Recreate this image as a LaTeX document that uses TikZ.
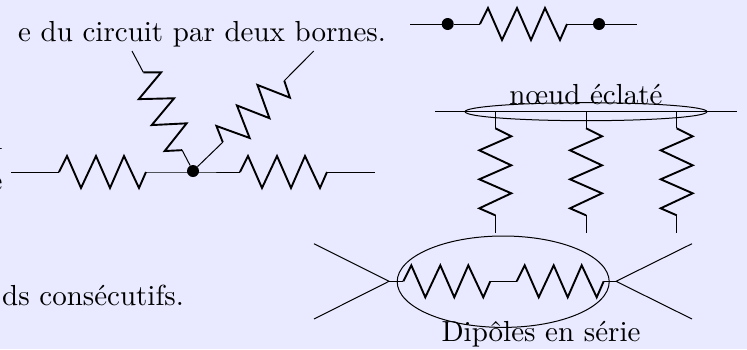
\documentclass[tikz,border=0pt]{standalone}
\usepackage{fontspec}
\usetikzlibrary{shapes.geometric}
\definecolor{fond}{HTML}{E9E9FF}
\tikzset{
	resist/.pic={
		\coordinate (-in) at (0,0);
		\coordinate (-out) at (87,0);
		\draw[line width=1.9pt] (-in)--(8,-16)--(22,16)--(37,-16)--(51,16)--(65,-16)--(80,16)--(-out);
	},
	fil/.style={line width=1pt},
	borne/.style={circle,fill=black,inner sep=0pt,minimum size=12pt},
	bulle/.style={ellipse,draw,line width=1pt,inner sep=0pt},
	texte/.style={scale=2.9,inner sep=0pt}
}
\begin{document}
\begin{tikzpicture}[x=1pt,y=-1pt]
	\useasboundingbox (0,0) rectangle (747,349);
	\fill[fond] (0,0) rectangle (747,349);
	% texte coupe a gauche
	\node[texte,anchor=base east] (l1) at (386.5,41.5) {e du circuit par deux bornes.};
	\node[texte,anchor=base east] (l2) at (1.5,72) {.};
	\node[texte,anchor=base east] (l3) at (3,149) {n};
	\node[texte,anchor=base east] (l4) at (3,190) {e};
	\node[texte,anchor=base east] (l5) at (184.5,305) {ds consécutifs.};
	% noeud a trois branches
	\node[borne] (n1) at (193,171) {};
	\coordinate (a1) at (11,172);
	\coordinate (a2) at (374.7,172);
	\coordinate (a3) at (132,51);
	\coordinate (a4) at (313.7,51);
	\pic (r1) at (59,172) {resist};
	\pic (r2) at (240,172) {resist};
	\pic[rotate=-63.5] (r3) at (143.3,72.3) {resist};
	\pic[rotate=-135] (r4) at (284.3,80.7) {resist};
	\draw[fil] (a1)--(r1-in) (r1-out)--(193,172)--(r2-in) (r2-out)--(a2);
	\draw[fil] (a3)--(r3-in) (r3-out)--(n1);
	\draw[fil] (a4)--(r4-in) (r4-out)--(n1);
	% dipole seul
	\node[borne] (n2) at (447.7,24) {};
	\node[borne] (n3) at (599,24) {};
	\coordinate (b1) at (410,24);
	\coordinate (b2) at (636.7,24);
	\pic (r5) at (480,24) {resist};
	\draw[fil] (b1)--(n2)--(r5-in) (r5-out)--(n3)--(b2);
	% noeud eclate
	\coordinate (c1) at (435,111.5);
	\coordinate (c2) at (737.3,111.5);
	\draw[fil] (c1)--(c2);
	\node[bulle,minimum width=242pt,minimum height=18pt] (e1) at (586,111.7) {};
	\node[texte,anchor=base] (t1) at (586,104.5) {nœud éclaté};
	\foreach \n/\x in {6/495.3,7/586,8/676.7}{
		\coordinate (d\n) at (\x,111.5);
		\coordinate (f\n) at (\x,232.7);
		\pic[rotate=-90] (r\n) at (\x,128.3) {resist};
		\draw[fil] (d\n)--(r\n-in) (r\n-out)--(f\n);
	}
	% dipoles en serie
	\node[bulle,minimum width=212pt,minimum height=91.4pt] (e2) at (503.2,281.7) {};
	\coordinate (g1) at (389,281.3);
	\coordinate (g2) at (616,281.3);
	\coordinate (h1) at (314,243.7);
	\coordinate (h2) at (314,319);
	\coordinate (h3) at (692,243.7);
	\coordinate (h4) at (692,319);
	\pic (r9) at (403.3,281.3) {resist};
	\pic (r10) at (516.7,281.3) {resist};
	\draw[fil] (g1)--(r9-in) (r9-out)--(r10-in) (r10-out)--(g2);
	\draw[fil] (h1)--(g1)--(h2) (h3)--(g2)--(h4);
	\node[texte,anchor=base] (t2) at (541,341.7) {Dipôles en série};
\end{tikzpicture}
\end{document}
